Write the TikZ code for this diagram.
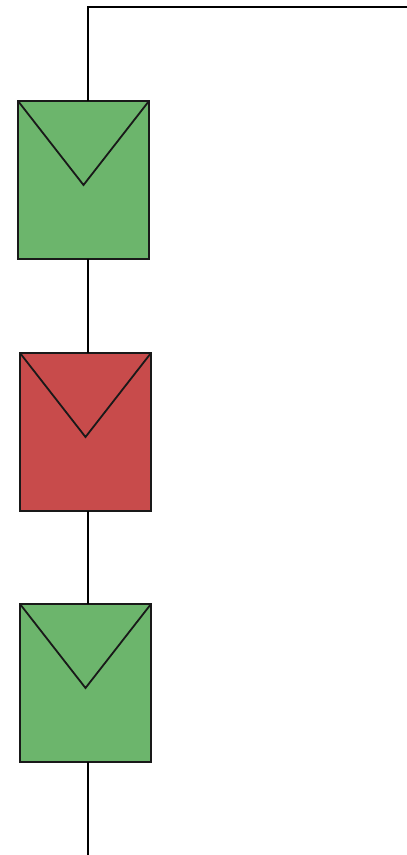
\documentclass[tikz,border=0pt]{standalone}
\usetikzlibrary{calc}
\definecolor{pvgreen}{HTML}{6CB56C}
\definecolor{pvred}{HTML}{C84B4B}
\tikzset{
  panel/.style={draw=black!90, line width=1.8pt, minimum width=131pt, minimum height=158pt, inner sep=0pt, outer sep=0pt},
  wire/.style={draw=black, line width=2pt},
  vee/.style={draw=black!90, line width=1.8pt, line join=miter}
}
\begin{document}
\begin{tikzpicture}[x=1pt,y=-1pt]
\useasboundingbox (0,0) rectangle (407,855);
\node[panel, fill=pvgreen, anchor=north west] (p1) at (18,101) {};
\node[panel, fill=pvred, anchor=north west] (p2) at (20,353) {};
\node[panel, fill=pvgreen, anchor=north west] (p3) at (20,604) {};
\coordinate (corner) at (88,7);
\coordinate (endr) at (407,7);
\coordinate (bot) at (88,855);
\foreach \p in {p1,p2,p3}{
  \draw[vee] (\p.north west) -- ($(\p.north)+(0,84)$) -- (\p.north east);
}
\draw[wire] (p1.north -| corner) -- (corner) -- (endr);
\draw[wire] (p1.south -| corner) -- (p2.north -| corner);
\draw[wire] (p2.south -| corner) -- (p3.north -| corner);
\draw[wire] (p3.south -| corner) -- (bot);
\end{tikzpicture}
\end{document}
